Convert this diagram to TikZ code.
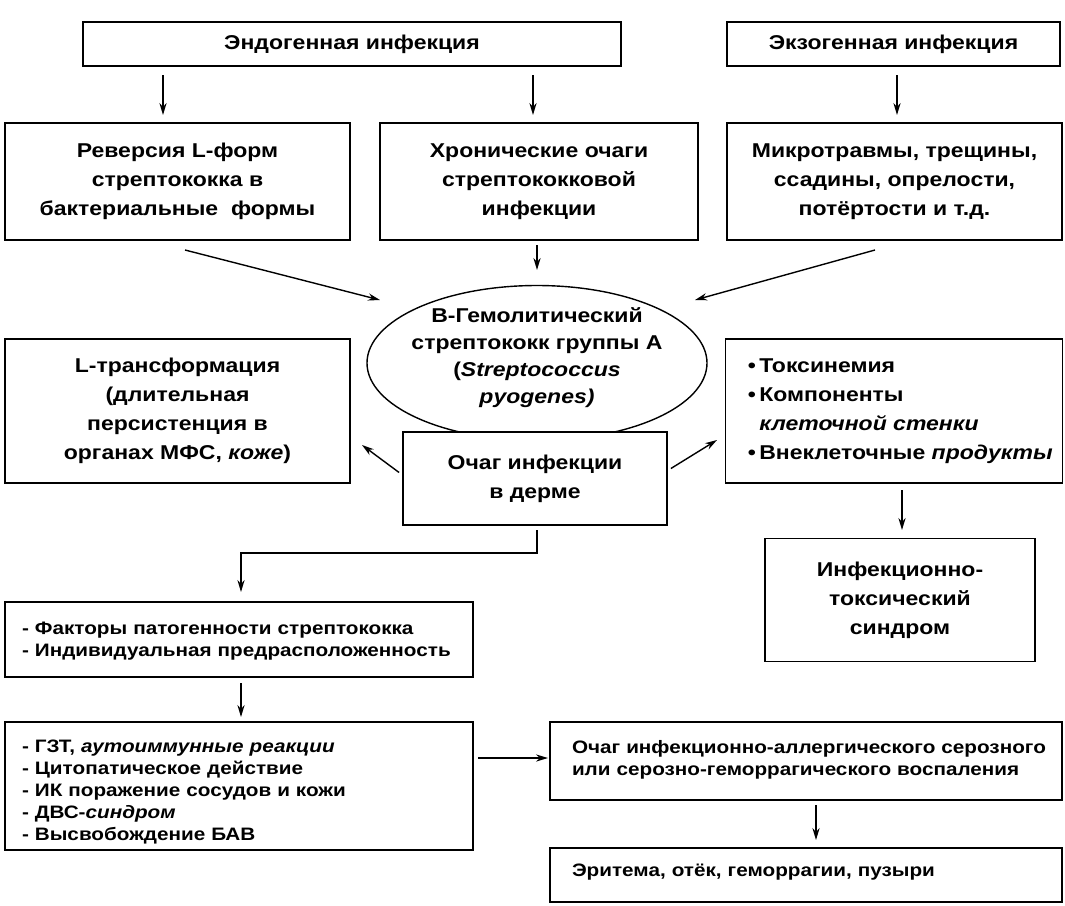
\documentclass[tikz,border=0pt]{standalone}
\usepackage{fontspec}
\setmainfont{Liberation Sans}[UprightFont=* Bold,ItalicFont=* Bold Italic,FakeStretch=1.15]
\usetikzlibrary{arrows.meta,shapes.geometric}
\tikzset{
  bx/.style={draw,line width=0.9pt,inner sep=0pt,align=center,font=\fontsize{10}{14.5}\selectfont},
  lst/.style={draw,line width=0.9pt,inner sep=0pt,align=left,font=\fontsize{9}{11}\selectfont},
  lsttxt/.style={inner sep=0pt,align=left,font=\fontsize{9}{11}\selectfont},
  arr/.style={line width=0.7pt,-{Stealth[length=6pt,width=3.6pt]}},
}
\begin{document}
\begin{tikzpicture}[x=0.5pt,y=-0.5pt]
\useasboundingbox (0,0) rectangle (1065,905);
% top row
\node[bx,minimum width=269pt,minimum height=22pt] (endo) at (352,44) {Эндогенная инфекция};
\node[bx,minimum width=166.5pt,minimum height=22pt] (exo) at (893.5,44) {Экзогенная инфекция};
% second row
\node[bx,minimum width=172.5pt,minimum height=58.5pt] (rev) at (177.5,181.5) {Реверсия L-форм\\стрептококка в\\бактериальные\ \ формы};
\node[bx,minimum width=159pt,minimum height=58.5pt] (chr) at (539,181.5) {Хронические очаги\\стрептококковой\\инфекции};
\node[bx,minimum width=167.5pt,minimum height=58.5pt] (mic) at (894.5,181.5) {Микротравмы, трещины,\\ссадины, опрелости,\\потёртости и т.д.};
% ellipse
\node[ellipse,draw,line width=0.7pt,minimum width=170pt,minimum height=77.5pt] (str) at (537,363) {};
\node[inner sep=0pt,align=center,font=\fontsize{10}{13.5}\selectfont] (strtxt) at (537,358) {В-Гемолитический\\стрептококк группы А\\(\textit{Streptococcus}\\\textit{pyogenes)}};
% third row
\node[bx,minimum width=172.5pt,minimum height=72pt] (ltr) at (177.5,411) {L-трансформация\\(длительная\\персистенция в\\органах МФС, \textit{коже})};
\node[bx,fill=white,minimum width=132pt,minimum height=46.5pt] (och) at (535,478.5) {Очаг инфекции\\в дерме};
\node[bx,minimum width=168.5pt,minimum height=72pt,align=left] (tox) at (894,411) {\hspace*{12pt}\llap{•\,}Токсинемия\\\hspace*{12pt}\llap{•\,}Компоненты\\\hspace*{12pt}\textit{клеточной стенки}\\\hspace*{12pt}\llap{•\,}Внеклеточные \textit{продукты}};
\node[bx,minimum width=135pt,minimum height=61.5pt] (its) at (900,600) {Инфекционно-\\токсический\\синдром};
% lower left
\node[lst,minimum width=234pt,minimum height=37.5pt] (fac) at (239,639.5) {};
\node[lsttxt,text width=217pt] (factxt) at (239,641) {- Факторы патогенности стрептококка\\- Индивидуальная предрасположенность};
\node[lst,minimum width=234pt,minimum height=64pt] (gzt) at (239,786) {};
\node[lsttxt,text width=217pt] (gzttxt) at (239,792) {- ГЗТ, \textit{аутоиммунные реакции}\\- Цитопатическое действие\\- ИК поражение сосудов и кожи\\- ДВС-\textit{синдром}\\- Высвобождение БАВ};
% lower right
\node[lst,minimum width=256pt,minimum height=39pt] (all) at (806,761) {};
\node[lsttxt,text width=242pt] (alltxt) at (814,760) {Очаг инфекционно-аллергического серозного\\или серозно-геморрагического воспаления};
\node[lst,minimum width=256pt,minimum height=27pt] (ery) at (806,875) {};
\node[lsttxt,text width=242pt] (erytxt) at (814,872) {Эритема, отёк, геморрагии, пузыри};
% arrows
\draw[arr] (163,75) -- (163,115);
\draw[arr] (533,75) -- (533,115);
\draw[arr] (897,75) -- (897,115);
\draw[arr] (537,245) -- (537,270);
\draw[arr] (185,250) -- (380,300);
\draw[arr] (875,250) -- (695,300);
\draw[arr] (och.west) ++(-3,-6) -- (362,445);
\draw[arr] (och.east) ++(3,-10) -- (717,440);
\draw[arr] (902,490) -- (902,530);
\draw[arr] (537,530) -- (537,553) -- (241,553) -- (241,592);
\draw[arr] (241,683) -- (241,717);
\draw[arr] (478,758) -- (548,758);
\draw[arr] (816,805) -- (816,840);
\end{tikzpicture}
\end{document}
